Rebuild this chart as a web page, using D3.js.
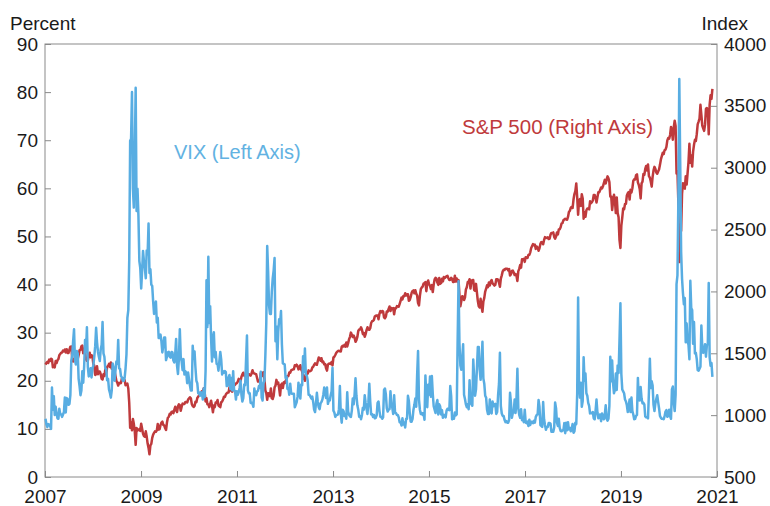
<!DOCTYPE html>
<html lang="en">

<head>
    <meta charset="UTF-8">
    <title>VIX and S&amp;P 500</title>
    <style>
        body {
            margin: 0;
            background: #ffffff;
        }

        svg text {
            font-family: "Liberation Sans", Arial, sans-serif;
        }
    </style>
    <script src="https://cdn.jsdelivr.net/npm/d3@7"></script>
</head>

<body>
</body>

<script>
    // weekly closes, one array per year (first week = first Friday after Jan 1)
    const vix2007 = [12.1, 10.9, 10.4, 11.0, 10.9, 10.6, 10.0, 18.6, 14.0, 16.8, 12.9, 14.6, 13.2, 12.2, 12.1, 14.2, 13.1, 13.0, 12.5, 13.0, 13.5, 16.5, 13.4, 16.4, 16.2, 15.0, 15.2, 17.0, 24.2, 25.2, 28.2, 30.7, 24.2, 23.4, 26.2, 25.7, 20.4, 18.9, 17.0, 18.0, 22.0, 19.6, 23.0, 28.5, 26.0, 31.1, 22.9, 20.9, 21.5, 22.6, 20.7, 22.5];
    const vix2008 = [23.2, 25.0, 27.2, 31.0, 28.0, 26.0, 25.0, 24.1, 26.5, 27.5, 32.2, 25.7, 25.0, 22.5, 22.4, 20.1, 20.4, 18.2, 17.5, 16.5, 18.0, 23.6, 22.6, 20.0, 22.0, 24.0, 23.5, 28.5, 22.6, 22.5, 21.0, 20.7, 20.0, 20.0, 20.6, 22.6, 25.5, 33.1, 34.7, 45.1, 69.9, 70.3, 80.0, 59.9, 56.0, 66.3, 80.9, 55.3, 59.9, 54.3, 44.9, 43.4];
    const vix2009 = [39.2, 42.8, 47.0, 44.8, 43.4, 41.3, 47.1, 46.3, 52.7, 42.4, 43.2, 40.0, 39.7, 36.5, 33.9, 35.3, 36.5, 32.1, 33.1, 28.9, 28.9, 29.6, 28.2, 25.9, 27.2, 29.0, 29.0, 24.3, 25.0, 25.9, 26.0, 25.0, 24.8, 26.0, 25.9, 24.2, 23.8, 25.6, 28.7, 23.1, 21.4, 24.6, 30.7, 25.0, 24.0, 22.2, 24.5, 21.3, 22.0, 21.7, 19.5, 21.7];
    const vix2010 = [19.0, 18.0, 18.0, 27.3, 24.6, 26.1, 22.7, 20.0, 19.5, 17.4, 17.6, 16.9, 17.6, 17.5, 16.1, 18.4, 16.6, 22.1, 40.9, 31.2, 45.8, 32.0, 35.5, 28.8, 24.0, 29.0, 30.1, 24.9, 26.0, 23.5, 23.5, 22.1, 24.1, 26.0, 24.4, 21.3, 22.0, 21.7, 22.0, 21.8, 18.9, 19.0, 20.7, 21.2, 18.3, 20.6, 18.0, 22.0, 18.0, 17.9, 16.1, 17.8];
    const vix2011 = [17.1, 17.6, 18.5, 20.0, 17.1, 15.7, 16.4, 19.2, 19.1, 24.3, 29.4, 18.0, 17.4, 17.4, 15.4, 15.5, 15.2, 14.6, 18.4, 17.1, 17.0, 17.8, 17.9, 18.9, 18.5, 21.9, 16.5, 15.9, 19.5, 20.0, 25.3, 32.0, 48.0, 42.7, 35.6, 33.9, 33.9, 38.5, 41.3, 42.9, 45.5, 28.2, 31.3, 24.5, 30.2, 32.8, 32.0, 34.5, 27.5, 23.6, 23.5, 23.4];
    const vix2012 = [20.6, 20.9, 18.3, 18.5, 17.1, 19.4, 17.5, 17.3, 17.3, 17.3, 14.5, 15.0, 15.5, 16.7, 19.6, 17.4, 16.3, 19.2, 19.1, 25.1, 21.8, 26.7, 21.2, 21.1, 20.1, 17.1, 17.1, 16.7, 16.3, 16.7, 15.6, 14.0, 13.5, 15.2, 17.5, 15.6, 14.5, 14.1, 15.3, 15.6, 16.1, 17.1, 18.6, 17.6, 16.4, 18.6, 15.2, 15.9, 15.9, 17.0, 17.8, 22.7];
    const vix2013 = [13.8, 13.4, 12.5, 12.9, 12.9, 13.0, 14.1, 18.9, 13.1, 11.3, 14.0, 13.7, 12.7, 13.0, 12.1, 17.6, 13.6, 12.9, 12.6, 12.5, 13.8, 16.3, 15.1, 17.2, 20.5, 16.9, 14.9, 14.0, 12.5, 12.7, 12.0, 12.9, 14.4, 14.0, 17.0, 15.4, 14.2, 13.1, 15.5, 19.4, 15.7, 13.0, 13.1, 12.5, 12.9, 12.2, 12.3, 12.8, 15.4, 15.7, 13.8, 12.5];
    const vix2014 = [12.5, 12.1, 12.4, 18.1, 18.4, 17.2, 14.3, 13.6, 14.0, 14.1, 17.8, 15.0, 14.4, 13.1, 17.0, 13.4, 13.3, 12.9, 12.9, 12.4, 11.4, 11.4, 10.7, 12.2, 10.9, 11.3, 10.3, 12.1, 12.1, 16.9, 15.8, 13.2, 11.5, 11.5, 12.1, 14.0, 15.0, 16.3, 14.6, 21.2, 26.2, 16.1, 14.0, 13.1, 13.3, 12.9, 13.3, 11.9, 21.1, 16.5, 14.5, 19.2];
    const vix2015 = [17.1, 20.9, 16.7, 21.0, 17.3, 14.7, 14.0, 13.3, 15.2, 16.0, 13.0, 15.1, 14.7, 13.0, 13.9, 12.3, 12.9, 12.9, 12.4, 13.8, 14.2, 14.0, 13.9, 18.9, 16.8, 12.0, 12.6, 12.1, 13.4, 12.8, 13.0, 28.0, 40.7, 27.8, 23.2, 22.3, 24.5, 27.6, 17.1, 16.2, 15.1, 14.5, 15.1, 14.1, 20.1, 15.5, 15.1, 14.8, 24.4, 20.7, 16.9, 18.2];
    const vix2016 = [27.0, 27.0, 22.3, 20.2, 23.4, 28.1, 20.5, 19.4, 16.9, 16.5, 14.0, 13.1, 13.1, 16.1, 13.6, 13.2, 15.7, 14.7, 15.0, 15.2, 13.1, 13.5, 17.0, 19.4, 25.8, 14.8, 13.2, 12.7, 12.7, 11.9, 11.4, 11.6, 11.3, 11.3, 11.9, 17.5, 15.4, 12.3, 13.3, 13.5, 16.1, 13.3, 16.2, 22.5, 14.2, 12.9, 12.3, 14.1, 11.8, 12.2, 11.4, 14.0];
    const vix2017 = [11.3, 11.2, 11.5, 10.6, 11.9, 10.8, 11.5, 11.5, 11.2, 11.7, 11.3, 12.5, 12.9, 13.0, 16.0, 14.6, 10.8, 10.6, 10.4, 15.6, 12.0, 10.8, 9.8, 10.4, 10.4, 11.2, 11.2, 11.1, 9.4, 9.4, 9.4, 10.3, 15.5, 14.3, 11.3, 10.6, 12.1, 10.2, 9.6, 9.5, 9.7, 9.7, 11.2, 9.1, 11.3, 9.7, 11.4, 9.9, 10.2, 9.5, 10.0, 11.0];
    const vix2018 = [9.2, 9.5, 11.3, 11.0, 17.3, 37.3, 19.5, 16.5, 19.6, 14.6, 15.8, 24.9, 20.0, 21.5, 17.4, 16.9, 15.4, 14.8, 13.2, 13.4, 13.2, 13.5, 12.2, 12.0, 13.8, 16.1, 13.4, 12.2, 12.9, 13.0, 11.6, 13.2, 12.6, 12.0, 12.9, 14.9, 12.1, 11.7, 12.1, 14.8, 25.0, 19.9, 24.2, 19.5, 17.4, 18.1, 21.5, 18.1, 23.2, 21.6, 28.4, 36.1];
    const vix2019 = [21.4, 18.2, 17.8, 17.4, 16.1, 15.7, 14.9, 13.5, 14.8, 16.1, 13.5, 16.5, 13.7, 13.0, 12.0, 12.1, 12.7, 12.9, 20.6, 16.0, 15.9, 18.7, 16.3, 15.3, 15.4, 15.1, 12.6, 12.4, 12.4, 12.2, 17.6, 24.6, 18.5, 19.9, 19.0, 15.0, 13.7, 15.3, 16.2, 17.0, 15.6, 14.3, 12.7, 12.3, 12.1, 12.1, 12.0, 12.6, 13.6, 13.9, 12.5, 12.7];
    const vix2020 = [14.0, 12.6, 12.1, 18.2, 18.8, 15.5, 13.7, 17.1, 40.1, 41.9, 57.8, 82.7, 65.5, 46.8, 41.2, 38.2, 35.9, 37.2, 28.0, 31.9, 28.2, 27.5, 24.5, 40.8, 35.1, 34.7, 27.7, 32.2, 25.7, 25.8, 24.5, 22.2, 22.1, 22.5, 22.9, 31.5, 26.9, 25.8, 26.4, 27.6, 25.0, 27.4, 27.6, 40.3, 24.9, 23.1, 23.7, 20.8];

    const spx2007 = [1409, 1423, 1431, 1422, 1449, 1438, 1456, 1451, 1387, 1402, 1386, 1437, 1421, 1443, 1453, 1484, 1495, 1505, 1506, 1522, 1515, 1531, 1507, 1533, 1503, 1503, 1530, 1553, 1554, 1459, 1434, 1453, 1446, 1479, 1474, 1454, 1484, 1525, 1527, 1557, 1562, 1500, 1535, 1509, 1453, 1439, 1441, 1481, 1504, 1467, 1484, 1478];
    const spx2008 = [1411, 1401, 1325, 1330, 1395, 1331, 1349, 1353, 1331, 1294, 1288, 1330, 1316, 1370, 1332, 1390, 1398, 1414, 1389, 1425, 1375, 1400, 1361, 1360, 1318, 1278, 1262, 1239, 1261, 1257, 1260, 1296, 1298, 1292, 1283, 1242, 1252, 1255, 1213, 1100, 899, 940, 877, 968, 930, 873, 760, 896, 876, 880, 887, 873];
    const spx2009 = [931, 890, 850, 832, 826, 869, 827, 770, 735, 683, 756, 768, 816, 843, 857, 869, 866, 877, 929, 883, 887, 919, 940, 947, 921, 918, 896, 880, 940, 979, 987, 1010, 1005, 1026, 1029, 1016, 1042, 1068, 1044, 1025, 1071, 1087, 1080, 1036, 1069, 1093, 1091, 1091, 1106, 1106, 1102, 1126];
    const spx2010 = [1144, 1136, 1091, 1074, 1066, 1075, 1109, 1105, 1139, 1150, 1159, 1167, 1179, 1194, 1192, 1217, 1187, 1111, 1136, 1088, 1089, 1065, 1092, 1117, 1076, 1023, 1078, 1065, 1102, 1101, 1122, 1079, 1071, 1065, 1104, 1110, 1126, 1149, 1147, 1166, 1176, 1183, 1183, 1225, 1200, 1199, 1190, 1224, 1240, 1244, 1256, 1258];
    const spx2011 = [1271, 1293, 1283, 1276, 1310, 1329, 1343, 1320, 1321, 1304, 1279, 1314, 1332, 1328, 1320, 1337, 1363, 1340, 1337, 1333, 1331, 1300, 1271, 1272, 1268, 1340, 1344, 1316, 1346, 1292, 1199, 1179, 1124, 1177, 1174, 1154, 1216, 1136, 1131, 1155, 1224, 1238, 1285, 1253, 1263, 1216, 1159, 1244, 1255, 1219, 1265, 1258];
    const spx2012 = [1278, 1289, 1315, 1316, 1345, 1343, 1362, 1366, 1370, 1371, 1404, 1397, 1408, 1398, 1370, 1378, 1403, 1369, 1353, 1295, 1318, 1278, 1325, 1342, 1335, 1362, 1354, 1356, 1362, 1385, 1391, 1406, 1418, 1411, 1407, 1438, 1466, 1460, 1441, 1460, 1428, 1433, 1411, 1414, 1379, 1360, 1409, 1416, 1418, 1413, 1430, 1402];
    const spx2013 = [1466, 1472, 1486, 1503, 1513, 1518, 1520, 1516, 1515, 1552, 1561, 1556, 1569, 1553, 1588, 1555, 1582, 1614, 1633, 1667, 1650, 1631, 1643, 1626, 1593, 1606, 1632, 1680, 1692, 1692, 1710, 1691, 1655, 1664, 1633, 1655, 1688, 1710, 1692, 1690, 1703, 1745, 1759, 1762, 1770, 1798, 1804, 1806, 1805, 1775, 1818, 1841];
    const spx2014 = [1831, 1842, 1839, 1790, 1783, 1797, 1838, 1836, 1859, 1878, 1841, 1866, 1857, 1865, 1816, 1864, 1863, 1881, 1878, 1877, 1900, 1924, 1950, 1936, 1962, 1961, 1985, 1967, 1978, 1978, 1925, 1931, 1955, 1988, 2003, 2008, 1985, 2010, 1982, 1967, 1906, 1887, 1965, 2018, 2032, 2039, 2064, 2068, 2075, 2002, 2070, 2089];
    const spx2015 = [2058, 2044, 2019, 2051, 1995, 2055, 2097, 2110, 2105, 2071, 2053, 2108, 2061, 2067, 2102, 2081, 2117, 2108, 2116, 2123, 2126, 2107, 2092, 2094, 2110, 2102, 2077, 2077, 2127, 2080, 2104, 2078, 2092, 1971, 1880, 1921, 1961, 1958, 1931, 1951, 2015, 2033, 2075, 2079, 2099, 2023, 2089, 2090, 2092, 2012, 2006, 2061];
    const spx2016 = [1922, 1880, 1870, 1940, 1880, 1835, 1918, 1948, 1999, 2022, 2050, 2035, 2073, 2048, 2081, 2092, 2065, 2057, 2047, 2053, 2099, 2099, 2096, 2071, 2037, 2103, 2130, 2162, 2175, 2173, 2183, 2184, 2184, 2169, 2180, 2128, 2139, 2165, 2168, 2153, 2133, 2141, 2126, 2085, 2164, 2182, 2213, 2192, 2260, 2259, 2263, 2239];
    const spx2017 = [2277, 2275, 2271, 2295, 2297, 2316, 2351, 2367, 2383, 2373, 2378, 2344, 2363, 2355, 2329, 2349, 2384, 2399, 2391, 2382, 2416, 2439, 2432, 2433, 2438, 2423, 2425, 2459, 2473, 2472, 2477, 2441, 2426, 2443, 2477, 2461, 2500, 2502, 2519, 2549, 2553, 2575, 2581, 2588, 2582, 2579, 2602, 2642, 2652, 2675, 2684, 2674];
    const spx2018 = [2743, 2787, 2810, 2873, 2762, 2620, 2732, 2747, 2691, 2786, 2752, 2588, 2641, 2604, 2656, 2670, 2670, 2663, 2728, 2713, 2721, 2735, 2779, 2780, 2755, 2718, 2760, 2801, 2802, 2819, 2840, 2833, 2850, 2875, 2902, 2872, 2905, 2930, 2914, 2885, 2767, 2768, 2658, 2723, 2781, 2736, 2633, 2760, 2633, 2600, 2416, 2351];
    const spx2019 = [2532, 2596, 2671, 2665, 2707, 2708, 2776, 2793, 2804, 2743, 2822, 2800, 2834, 2893, 2907, 2905, 2940, 2946, 2881, 2860, 2826, 2752, 2873, 2887, 2950, 2942, 2990, 3014, 2977, 3026, 2932, 2919, 2889, 2847, 2926, 2979, 3007, 2992, 2962, 2952, 2970, 2986, 3023, 3067, 3093, 3120, 3110, 3141, 3146, 3169, 3221, 3240];
    const spx2020 = [3235, 3265, 3330, 3295, 3226, 3328, 3380, 3338, 2954, 2972, 2711, 2237, 2541, 2489, 2790, 2875, 2837, 2831, 2930, 2864, 2955, 3044, 3194, 3041, 3098, 3009, 3130, 3185, 3225, 3216, 3271, 3351, 3373, 3397, 3508, 3427, 3341, 3319, 3298, 3348, 3477, 3483, 3465, 3270, 3510, 3585, 3557, 3638];

    const years = d3.range(2007, 2021);
    const vixByYear = [vix2007, vix2008, vix2009, vix2010, vix2011, vix2012, vix2013,
        vix2014, vix2015, vix2016, vix2017, vix2018, vix2019, vix2020];
    const spxByYear = [spx2007, spx2008, spx2009, spx2010, spx2011, spx2012, spx2013,
        spx2014, spx2015, spx2016, spx2017, spx2018, spx2019, spx2020];

    const xTickYears = [2007, 2009, 2011, 2013, 2015, 2017, 2019, 2021];
    const leftTicks = [0, 10, 20, 30, 40, 50, 60, 70, 80, 90];
    const rightTicks = [500, 1000, 1500, 2000, 2500, 3000, 3500, 4000];

    const width = 770;
    const height = 506;
    const margin = { top: 44, right: 53, bottom: 29, left: 45 };

    const blue = "#58ade2";
    const red = "#bf3a3c";
    const axisGray = "#8a8a8a";

    // turn the per-year arrays into dated weekly points
    function toSeries(byYear) {
        const out = [];
        byYear.forEach((vals, k) => {
            const first = d3.timeFriday.ceil(new Date(years[k], 0, 2));
            vals.forEach((v, i) => out.push({ date: d3.timeFriday.offset(first, i), value: v }));
        });
        return out;
    }
    const vix = toSeries(vixByYear);
    const spx = toSeries(spxByYear);

    const svg = d3.select("body").append("svg")
        .attr("width", width)
        .attr("height", height)
        .style("display", "block");

    svg.append("rect").attr("width", width).attr("height", height).attr("fill", "#ffffff");

    const x = d3.scaleTime()
        .domain([new Date(2007, 0, 1), new Date(2021, 0, 1)])
        .range([margin.left, width - margin.right]);
    const yLeft = d3.scaleLinear()
        .domain([0, 90])
        .range([height - margin.bottom, margin.top]);
    const yRight = d3.scaleLinear()
        .domain([500, 4000])
        .range([height - margin.bottom, margin.top]);

    // frame
    svg.append("rect")
        .attr("x", margin.left)
        .attr("y", margin.top)
        .attr("width", width - margin.left - margin.right)
        .attr("height", height - margin.top - margin.bottom)
        .attr("fill", "none")
        .attr("stroke", axisGray)
        .attr("stroke-width", 1);

    function styleAxis(g) {
        g.select(".domain").remove();
        g.selectAll(".tick line").attr("stroke", axisGray);
        g.selectAll(".tick text")
            .attr("fill", "#1a1a1a")
            .attr("font-size", "19px")
            .attr("font-family", "'Liberation Sans', Arial, sans-serif");
    }

    svg.append("g")
        .attr("transform", `translate(0,${height - margin.bottom})`)
        .call(d3.axisBottom(x)
            .tickValues(xTickYears.map(yr => new Date(yr, 0, 1)))
            .tickFormat(d3.timeFormat("%Y"))
            .tickSizeInner(-6).tickSizeOuter(0).tickPadding(13))
        .call(styleAxis);

    svg.append("g")
        .attr("transform", `translate(${margin.left},0)`)
        .call(d3.axisLeft(yLeft)
            .tickValues(leftTicks)
            .tickFormat(d3.format("d"))
            .tickSizeInner(-6).tickSizeOuter(0).tickPadding(7))
        .call(styleAxis);

    svg.append("g")
        .attr("transform", `translate(${width - margin.right},0)`)
        .call(d3.axisRight(yRight)
            .tickValues(rightTicks)
            .tickFormat(d3.format("d"))
            .tickSizeInner(-6).tickSizeOuter(0).tickPadding(7))
        .call(styleAxis);

    // axis unit labels
    svg.append("text")
        .attr("x", 10).attr("y", 30)
        .attr("font-size", "19px").attr("fill", "#1a1a1a")
        .text("Percent");
    svg.append("text")
        .attr("x", 748).attr("y", 30)
        .attr("text-anchor", "end")
        .attr("font-size", "19px").attr("fill", "#1a1a1a")
        .text("Index");

    const plot = svg.append("g");

    plot.append("path")
        .datum(spx)
        .attr("fill", "none")
        .attr("stroke", red)
        .attr("stroke-width", 2.5)
        .attr("stroke-linejoin", "round")
        .attr("d", d3.line().x(d => x(d.date)).y(d => yRight(d.value)));

    plot.append("path")
        .datum(vix)
        .attr("fill", "none")
        .attr("stroke", blue)
        .attr("stroke-width", 2.5)
        .attr("stroke-linejoin", "round")
        .attr("d", d3.line().x(d => x(d.date)).y(d => yLeft(d.value)));

    // series labels
    svg.append("text")
        .attr("x", 174).attr("y", 159)
        .attr("font-size", "20px").attr("fill", "#62b2e2")
        .text("VIX (Left Axis)");
    svg.append("text")
        .attr("x", 462).attr("y", 134)
        .attr("font-size", "20.5px").attr("fill", red)
        .text("S&P 500 (Right Axis)");
</script>

</html>
